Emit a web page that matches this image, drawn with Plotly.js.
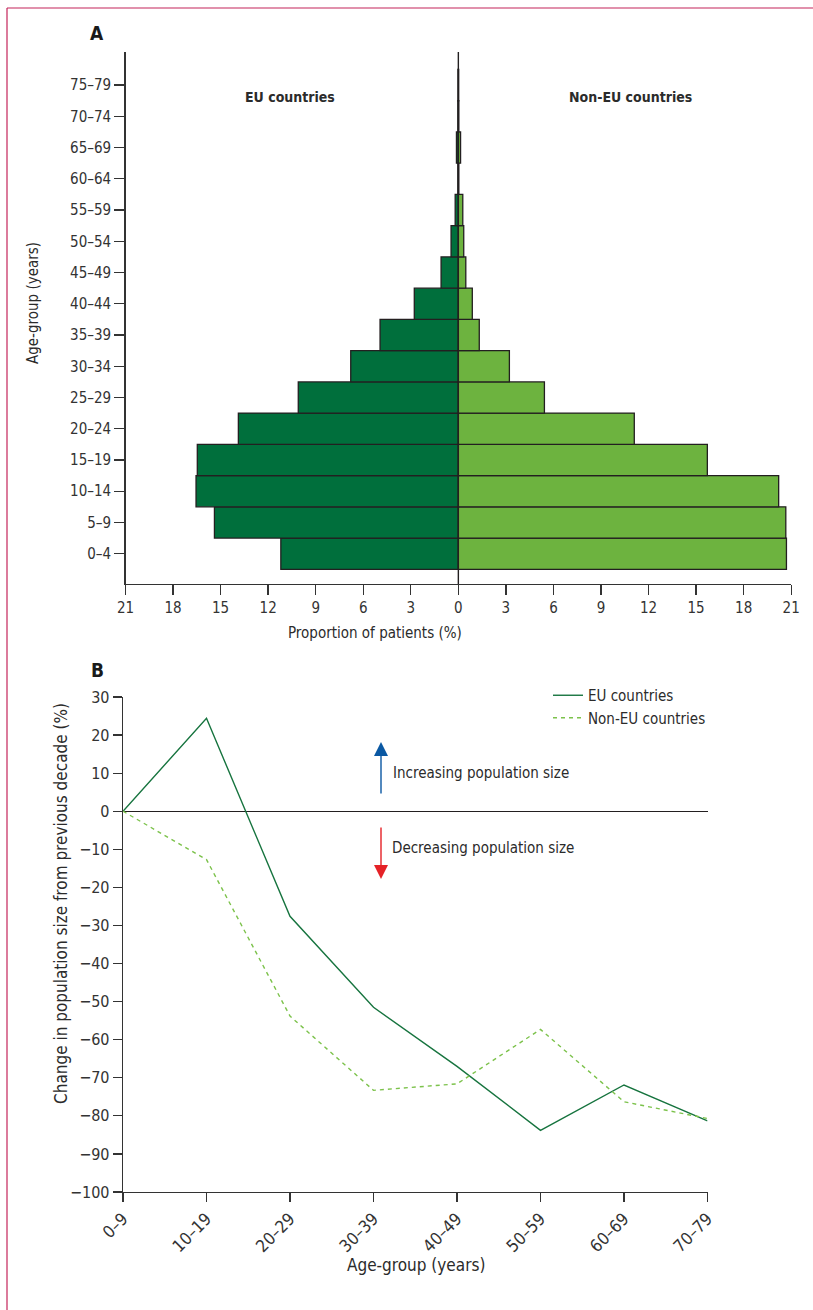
<!DOCTYPE html>
<html>
<head>
<meta charset="utf-8">
<script src="https://cdn.plot.ly/plotly-3.0.1.min.js"></script>
<style>
  html, body { margin: 0; padding: 0; background: #ffffff; }
  #chart { width: 813px; height: 1310px; }
</style>
</head>
<body>
<div id="chart"></div>
<script>
// ---------- Panel A data: proportion of patients (%) by 5-year age-group ----------
const ageGroupsA = ['0–4','5–9','10–14','15–19','20–24','25–29','30–34','35–39','40–44','45–49','50–54','55–59','60–64','65–69','70–74','75–79'];
const euProportion    = [11.2, 15.39, 16.55, 16.47, 13.88, 10.1, 6.79, 4.94, 2.78, 1.09, 0.46, 0.2, 0.03, 0.12, 0.03, 0.02];
const nonEuProportion = [20.7, 20.66, 20.21, 15.71, 11.1, 5.43, 3.22, 1.32, 0.88, 0.47, 0.34, 0.28, 0.03, 0.14, 0.03, 0.02];
const xTickValsA = [-21, -18, -15, -12, -9, -6, -3, 0, 3, 6, 9, 12, 15, 18, 21];
const xTickTextA = ['21','18','15','12','9','6','3','0','3','6','9','12','15','18','21'];

// ---------- Panel B data: change in population size from previous decade (%) ----------
const ageGroupsB = ['0–9','10–19','20–29','30–39','40–49','50–59','60–69','70–79'];
const euChange    = [0, 24.4, -27.6, -51.5, -67, -83.8, -71.9, -81.3];
const nonEuChange = [0, -12.7, -53.8, -73.3, -71.6, -57.3, -76.3, -80.7];

// ---------- helpers (pixel -> paper) ----------
const W = 813, H = 1310;
const px = x => x / W;
const py = y => 1 - y / H;

const FONT = 'Liberation Sans Narrow, DejaVu Sans Condensed, Arial Narrow, sans-serif';
const TXT = '#2b2b2b';
const AXC = '#333333';
const EU_BAR = '#006f3c';
const NONEU_BAR = '#6db33f';
const EU_LINE = '#17743f';
const NONEU_LINE = '#7cc24b';

// Panel A geometry
const aLeft = 125.5, aRight = 791.2, aTop = 52, aBottom = 584;
// Panel B geometry
const bLeft = 123, bRight = 707.5, bTop = 697, bBottom = 1192;

const traces = [
  {
    type: 'bar', orientation: 'h', name: 'EU countries',
    y: ageGroupsA, x: euProportion.map(v => -v),
    xaxis: 'x', yaxis: 'y', width: 1,
    marker: { color: EU_BAR, line: { color: '#231f20', width: 1.3 } },
    showlegend: false, hoverinfo: 'skip'
  },
  {
    type: 'bar', orientation: 'h', name: 'Non-EU countries',
    y: ageGroupsA, x: nonEuProportion,
    xaxis: 'x', yaxis: 'y', width: 1,
    marker: { color: NONEU_BAR, line: { color: '#231f20', width: 1.3 } },
    showlegend: false, hoverinfo: 'skip'
  },
  {
    type: 'scatter', mode: 'lines', name: 'EU countries',
    x: ageGroupsB, y: euChange, xaxis: 'x2', yaxis: 'y2',
    line: { color: EU_LINE, width: 1.4 }, showlegend: true, hoverinfo: 'skip'
  },
  {
    type: 'scatter', mode: 'lines', name: 'Non-EU countries',
    x: ageGroupsB, y: nonEuChange, xaxis: 'x2', yaxis: 'y2',
    line: { color: NONEU_LINE, width: 1.4, dash: '4px,4px' }, showlegend: true, hoverinfo: 'skip'
  }
];

const tickFont = { family: FONT, size: 15, color: AXC };

function label(text, x, y, size, extra) {
  return Object.assign({
    text: text, xref: 'paper', yref: 'paper', x: px(x), y: py(y),
    xanchor: 'center', yanchor: 'middle', showarrow: false,
    font: { family: FONT, size: size, color: TXT }
  }, extra || {});
}

const layout = {
  width: W, height: H,
  margin: { l: 0, r: 0, t: 0, b: 0 },
  paper_bgcolor: '#ffffff', plot_bgcolor: 'rgba(0,0,0,0)',
  font: { family: FONT, size: 15, color: TXT },
  barmode: 'overlay', bargap: 0,
  showlegend: true,
  legend: {
    x: px(548), y: py(679), xanchor: 'left', yanchor: 'top',
    bgcolor: 'rgba(0,0,0,0)', borderwidth: 0,
    font: { family: FONT, size: 15, color: TXT },
    tracegroupgap: 0, itemwidth: 30
  },
  xaxis: {
    domain: [px(aLeft), px(aRight)], anchor: 'y',
    range: [-21, 21], tickvals: xTickValsA, ticktext: xTickTextA,
    showline: true, linecolor: AXC, linewidth: 1.3,
    ticks: 'outside', ticklen: 10, tickwidth: 1.3, tickcolor: AXC,
    showgrid: false, zeroline: false, tickfont: tickFont
  },
  yaxis: {
    domain: [py(aBottom), py(aTop)], anchor: 'x',
    type: 'category', categoryorder: 'array', categoryarray: ageGroupsA,
    range: [-0.97, 16.06],
    showline: true, linecolor: AXC, linewidth: 1.3,
    ticks: 'outside', ticklen: 10, tickwidth: 1.3, tickcolor: AXC,
    showgrid: false, zeroline: false, tickfont: tickFont
  },
  xaxis2: {
    domain: [px(bLeft), px(bRight)], anchor: 'y2',
    type: 'category', categoryorder: 'array', categoryarray: ageGroupsB,
    range: [0, 7],
    showline: true, linecolor: AXC, linewidth: 1.3,
    ticks: 'outside', ticklen: 9, tickwidth: 1.3, tickcolor: AXC,
    tickangle: -45,
    showgrid: false, zeroline: false,
    tickfont: { family: FONT, size: 17, color: AXC }
  },
  yaxis2: {
    domain: [py(bBottom), py(bTop)], anchor: 'x2',
    range: [-100, 30], dtick: 10, tick0: 0,
    showline: true, linecolor: AXC, linewidth: 1.3,
    ticks: 'outside', ticklen: 9, tickwidth: 1.3, tickcolor: AXC,
    showgrid: false, zeroline: true, zerolinecolor: '#231f20', zerolinewidth: 1.4,
    tickfont: { family: FONT, size: 16, color: AXC }
  },
  shapes: [
    // centre line of the pyramid
    { type: 'line', xref: 'x', yref: 'paper', x0: 0, x1: 0, y0: py(aBottom), y1: py(aTop),
      line: { color: '#231f20', width: 1.4 }, layer: 'above' },
    // page border (top and left)
    { type: 'line', xref: 'paper', yref: 'paper', x0: px(7), x1: 1, y0: py(8), y1: py(8),
      line: { color: '#c4245a', width: 1.2 } },
    { type: 'line', xref: 'paper', yref: 'paper', x0: px(7), x1: px(7), y0: py(8), y1: 0,
      line: { color: '#c4245a', width: 1.2 } }
  ],
  annotations: [
    label('<b>A</b>', 97, 33, 19, { font: { family: FONT, size: 19, color: '#1a1a1a' } }),
    label('<b>B</b>', 97, 670, 19, { font: { family: FONT, size: 19, color: '#1a1a1a' } }),
    label('<b>EU countries</b>', 290, 97, 14),
    label('<b>Non-EU countries</b>', 630, 97, 14),
    label('Age-group (years)', 33, 303, 15, { textangle: -90 }),
    label('Proportion of patients (%)', 375, 633, 15),
    label('Change in population size from previous decade (%)', 61, 904, 17, { textangle: -90 }),
    label('Age-group (years)', 416, 1265, 17),
    // arrows
    { text: '', xref: 'paper', yref: 'paper', x: px(381), y: py(742), ax: 0, ay: 53,
      showarrow: true, arrowhead: 2, arrowsize: 2.0, arrowwidth: 1.4, arrowcolor: '#0a58a3' },
    { text: '', xref: 'paper', yref: 'paper', x: px(381), y: py(879), ax: 0, ay: -53,
      showarrow: true, arrowhead: 2, arrowsize: 2.0, arrowwidth: 1.4, arrowcolor: '#e52227' },
    label('Increasing population size', 391, 773, 15, { xanchor: 'left' }),
    label('Decreasing population size', 390, 848, 15, { xanchor: 'left' })
  ]
};

Plotly.newPlot('chart', traces, layout, { staticPlot: true, displayModeBar: false });
</script>
</body>
</html>
